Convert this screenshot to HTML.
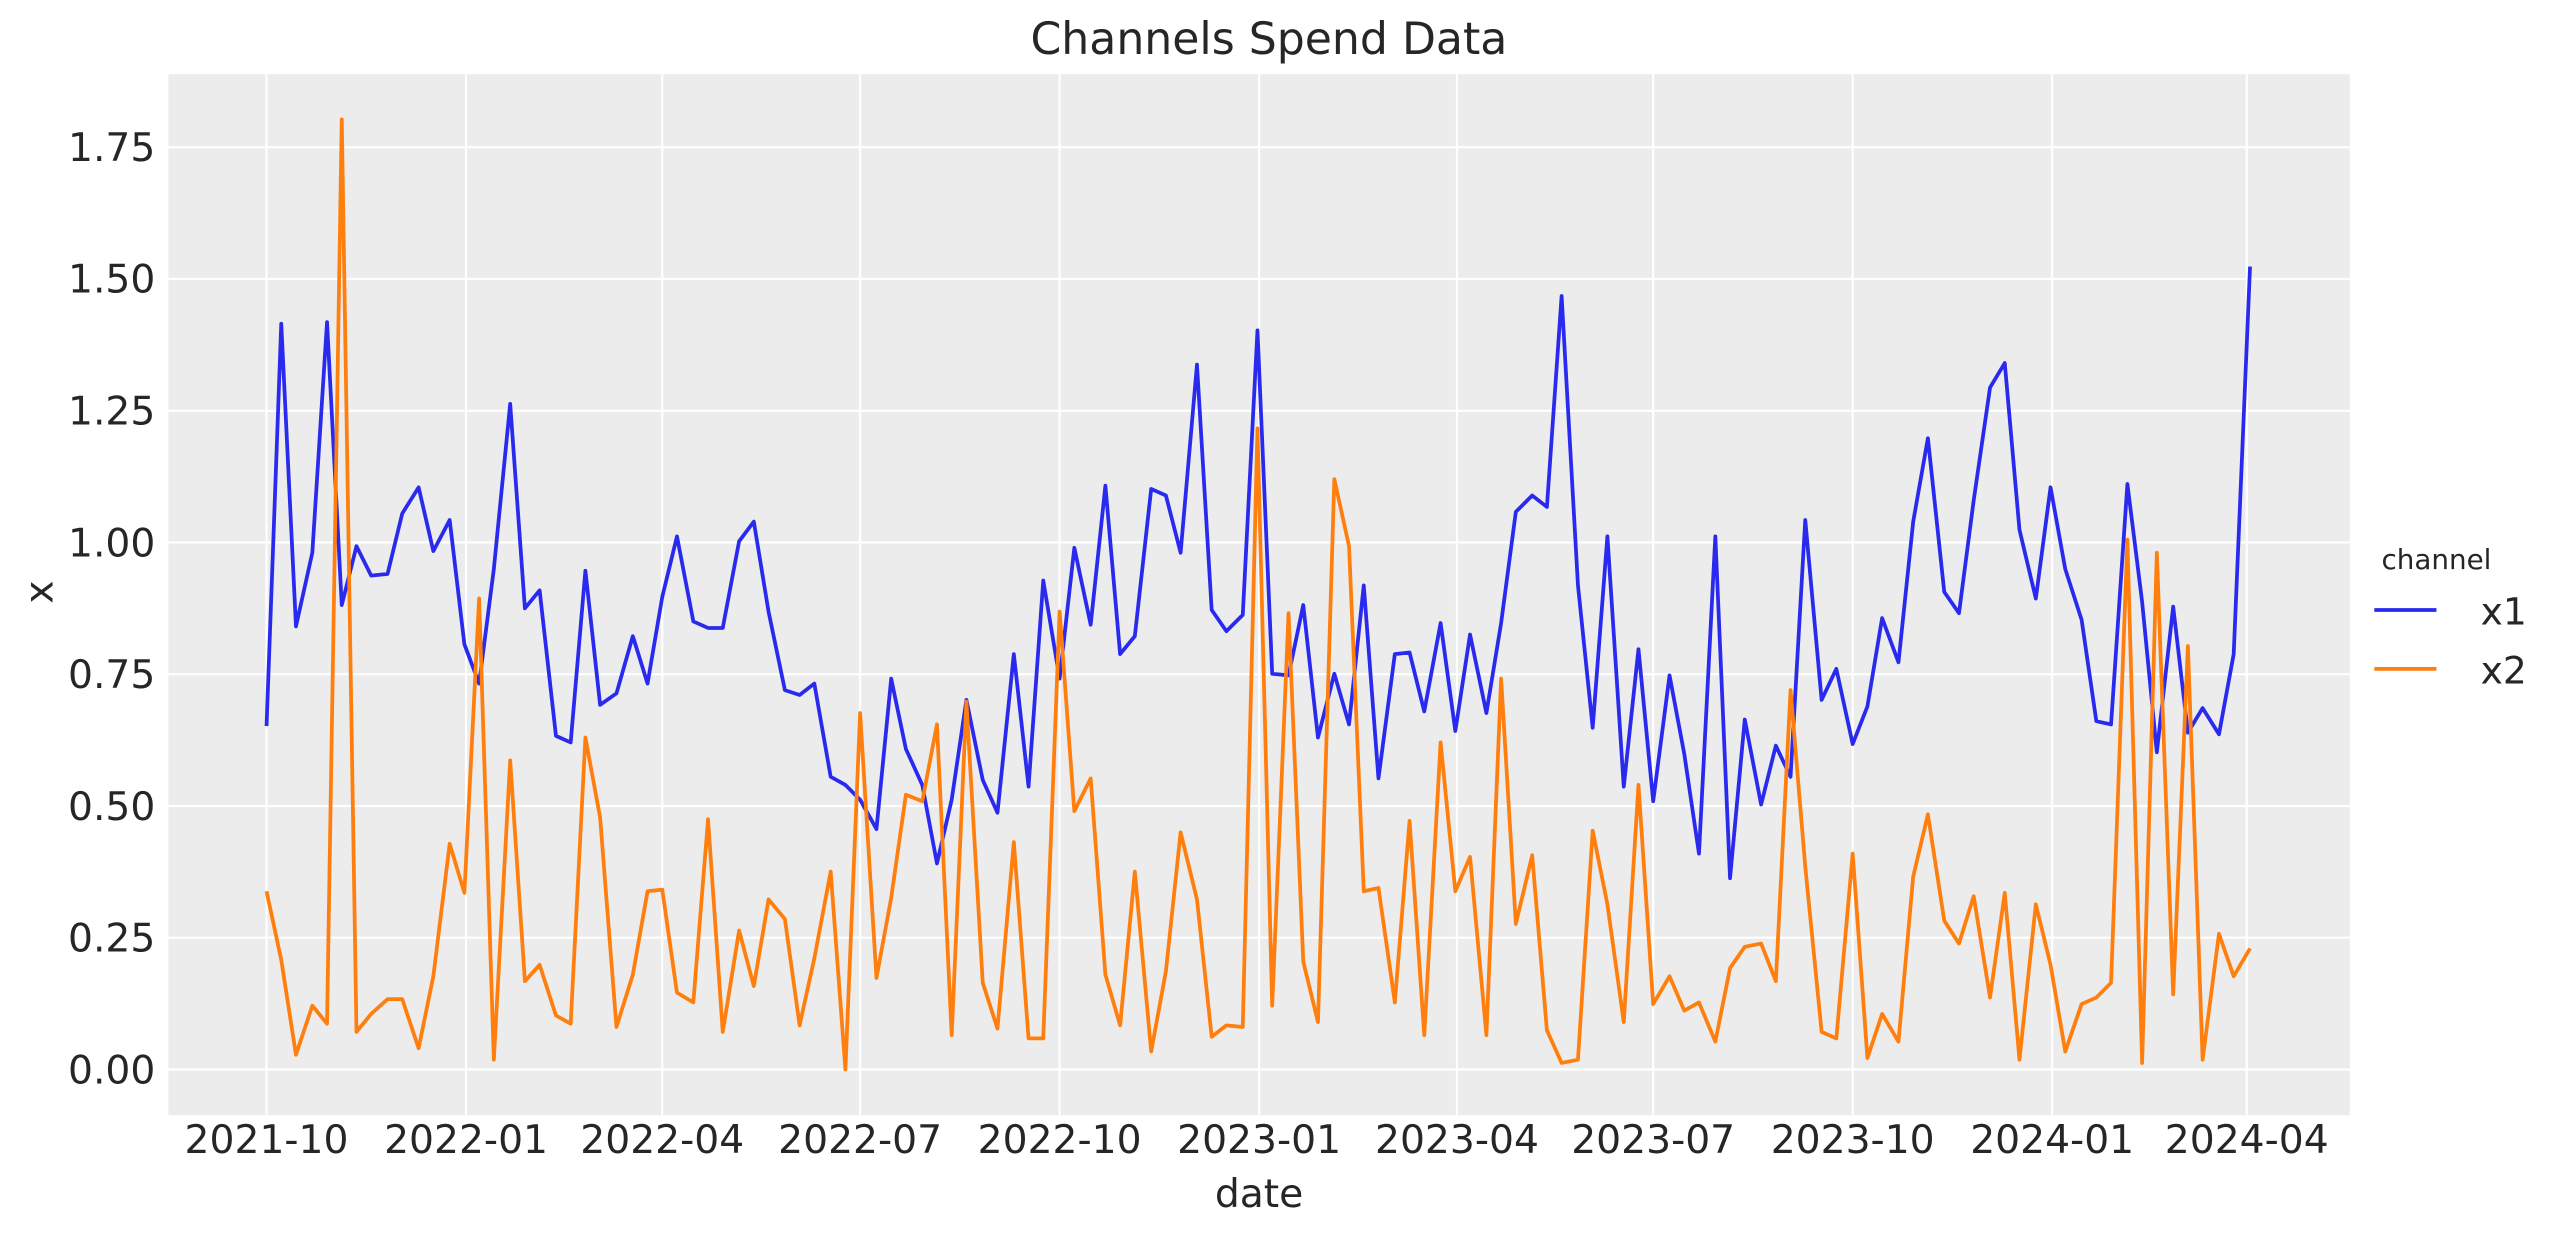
<!DOCTYPE html>
<html><head><meta charset="utf-8"><style>html,body{margin:0;padding:0;background:#fff;}svg{display:block;}</style></head>
<body>
<svg width="2564" height="1234" viewBox="0 0 1568 754.6" preserveAspectRatio="none" xmlns="http://www.w3.org/2000/svg" font-family="'DejaVu Sans','Liberation Sans',sans-serif" fill="#262626">
<rect x="103" y="45.3" width="1334" height="636.7" fill="#ececec"/>
<g stroke="#fff" stroke-width="1.3">
<line x1="103" x2="1437" y1="90" y2="90"/><line x1="103" x2="1437" y1="170.6" y2="170.6"/><line x1="103" x2="1437" y1="251.2" y2="251.2"/><line x1="103" x2="1437" y1="331.7" y2="331.7"/><line x1="103" x2="1437" y1="412.3" y2="412.3"/><line x1="103" x2="1437" y1="492.9" y2="492.9"/><line x1="103" x2="1437" y1="573.4" y2="573.4"/><line x1="103" x2="1437" y1="654" y2="654"/>
<line y1="45.3" y2="682" x1="163" x2="163"/><line y1="45.3" y2="682" x1="285" x2="285"/><line y1="45.3" y2="682" x1="405" x2="405"/><line y1="45.3" y2="682" x1="526" x2="526"/><line y1="45.3" y2="682" x1="648" x2="648"/><line y1="45.3" y2="682" x1="770" x2="770"/><line y1="45.3" y2="682" x1="891" x2="891"/><line y1="45.3" y2="682" x1="1011" x2="1011"/><line y1="45.3" y2="682" x1="1133" x2="1133"/><line y1="45.3" y2="682" x1="1255" x2="1255"/><line y1="45.3" y2="682" x1="1374" x2="1374"/>
</g>
<polyline fill="none" stroke="#2a2aef" stroke-width="2.3" stroke-linejoin="round" points="163,444 172,198 181,383 191,338 200,197 209,370 218,334 227,352 237,351 246,314 256,298 265,337 275,318 284,394 293,418 302,348 312,247 321,372 330,361 340,450 349,454 358,349 367,431 377,424 387,389 396,418 405,365 414,328 424,380 433,384 442,384 452,331 461,319 470,374 480,422 489,425 498,418 508,475 517,480 526,489 536,507 545,415 554,458 564,480 573,528 582,489 591,428 601,477 610,497 620,400 629,481 638,355 648,415 657,335 667,382 676,297 685,400 694,389 704,299 713,303 722,338 732,223 741,373 750,386 760,376 769,202 778,412 788,413 797,370 806,451 816,412 825,443 834,358 843,476 853,400 862,399 871,435 881,381 890,447 899,388 909,436 918,381 927,313 937,303 946,310 955,181 965,358 974,445 983,328 993,481 1002,397 1011,490 1021,413 1030,461 1039,522 1049,328 1058,537 1067,440 1077,492 1086,456 1095,475 1104,318 1114,428 1123,409 1133,455 1142,432 1151,378 1161,405 1170,319 1179,268 1189,362 1198,375 1207,306 1217,237 1226,222 1235,324 1245,366 1254,298 1263,348 1273,379 1282,441 1291,443 1301,296 1310,368 1319,460 1329,371 1338,448 1347,433 1357,449 1366,400 1376,163"/>
<polyline fill="none" stroke="#ff7f0e" stroke-width="2.3" stroke-linejoin="round" points="163,545 172,587 181,645 191,615 200,626 209,73 218,631 227,620 237,611 246,611 256,641 265,597 275,516 284,546 293,366 302,648 312,465 321,600 330,590 340,621 349,626 358,451 367,500 377,628 387,596 396,545 405,544 414,607 424,613 433,501 442,631 452,569 461,603 470,550 480,562 489,627 498,586 508,533 517,654 526,436 536,598 545,549 554,486 564,490 573,443 582,633 591,429 601,601 610,629 620,515 629,635 638,635 648,374 657,496 667,476 676,596 685,627 694,533 704,643 713,594 722,509 732,550 741,634 750,627 760,628 769,262 778,615 788,375 797,588 806,625 816,293 825,334 834,545 843,543 853,613 862,502 871,633 881,454 890,545 899,524 909,633 918,415 927,565 937,523 946,630 955,650 965,648 974,508 983,553 993,625 1002,480 1011,614 1021,597 1030,618 1039,613 1049,637 1058,592 1067,579 1077,577 1086,600 1095,422 1104,530 1114,631 1123,635 1133,522 1142,647 1151,620 1161,637 1170,536 1179,498 1189,563 1198,577 1207,548 1217,610 1226,546 1235,648 1245,553 1254,590 1263,643 1273,614 1282,610 1291,601 1301,330 1310,650 1319,338 1329,608 1338,395 1347,648 1357,571 1366,597 1376,580"/>
<g font-size="24" text-anchor="end">
<text x="95" y="98.5">1.75</text><text x="95" y="179">1.50</text><text x="95" y="259.7">1.25</text><text x="95" y="340.2">1.00</text><text x="95" y="420.8">0.75</text><text x="95" y="501.4">0.50</text><text x="95" y="581.9">0.25</text><text x="95" y="662.5">0.00</text>
</g>
<g font-size="24" text-anchor="middle">
<text x="163" y="705">2021-10</text><text x="285" y="705">2022-01</text><text x="405" y="705">2022-04</text><text x="526" y="705">2022-07</text><text x="648" y="705">2022-10</text><text x="770" y="705">2023-01</text><text x="891" y="705">2023-04</text><text x="1011" y="705">2023-07</text><text x="1133" y="705">2023-10</text><text x="1255" y="705">2024-01</text><text x="1374" y="705">2024-04</text>
<text x="770" y="738">date</text>
<text x="776" y="33" font-size="27">Channels Spend Data</text>
<text x="1490" y="348" font-size="17">channel</text>
</g>
<text x="32" y="362" font-size="24" text-anchor="middle" transform="rotate(-90 32 362)">x</text>
<line x1="1452" x2="1490" y1="373" y2="373" stroke="#2a2aef" stroke-width="2.3"/>
<line x1="1452" x2="1490" y1="409" y2="409" stroke="#ff7f0e" stroke-width="2.3"/>
<text x="1517" y="382" font-size="23">x1</text>
<text x="1517" y="418" font-size="23">x2</text>
</svg>
</body></html>
